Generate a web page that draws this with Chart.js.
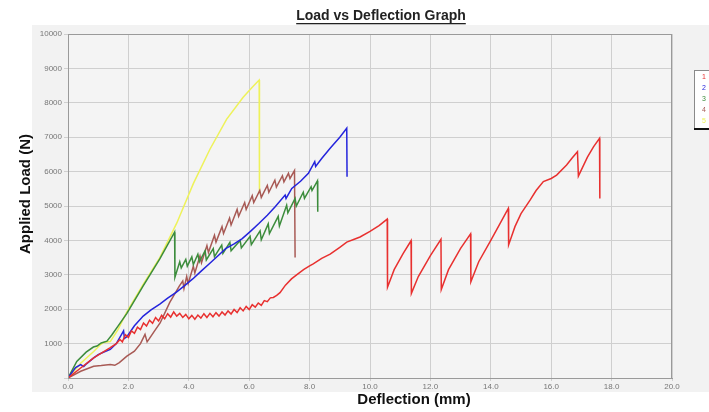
<!DOCTYPE html>
<html><head><meta charset="utf-8">
<script src="https://cdn.jsdelivr.net/npm/chart.js@4.4.1/dist/chart.umd.min.js"></script>
<style>html,body{margin:0;padding:0;background:#fff;overflow:hidden}</style>
</head><body>
<canvas id="c" width="709" height="412" style="width:709px;height:412px;display:block"></canvas>
<script>
const chartTitle = 'Load vs Deflection Graph';
const xTitle = 'Deflection (mm)';
const yTitle = 'Applied Load (N)';
const seriesLabels = ['1', '2', '3', '4', '5'];
const seriesColors = ['#e8302f', '#2424dc', '#3c8c3c', '#a85a55', '#eef25a'];

const s1X = [0,0.42,0.85,1.4,1.6,1.72,1.8,1.9,2.0,2.1,2.2,2.3,2.4,2.5,2.6,2.7,2.8,2.9,3.0,3.1,3.2,3.3,3.4,3.5,3.6,3.7,3.8,3.9,4.0,4.1,4.2,4.3,4.4,4.5,4.6,4.7,4.8,4.9,5.0,5.1,5.2,5.3,5.4,5.5,5.6,5.7,5.8,5.9,6.0,6.1,6.2,6.3,6.4,6.5,6.6,6.7,6.8,6.91,7.02,7.2,7.4,7.57,7.8,8.0,8.12,8.4,8.68,9.0,9.23,9.5,9.67,10.0,10.3,10.57,10.58,10.8,11.1,11.36,11.37,11.6,12.0,12.35,12.36,12.6,13.0,13.33,13.34,13.6,14.0,14.3,14.58,14.59,14.8,15.0,15.3,15.5,15.74,16.0,16.18,16.51,16.7,16.87,16.9,17.2,17.4,17.6,17.61];
const s1Y = [0,290,585,880,1000,1120,1050,1260,1180,1370,1300,1480,1410,1600,1510,1680,1590,1760,1660,1820,1720,1870,1770,1920,1800,1880,1760,1850,1720,1820,1710,1830,1740,1870,1760,1880,1780,1900,1800,1920,1830,1950,1860,1990,1900,2040,1950,2080,1990,2130,2060,2180,2110,2250,2220,2330,2340,2400,2480,2700,2880,3000,3150,3260,3320,3480,3600,3800,3950,4040,4100,4260,4430,4620,2640,3150,3620,3990,2460,2950,3560,4030,2570,3150,3770,4190,2800,3380,4000,4480,4930,3870,4400,4780,5170,5450,5710,5800,5900,6190,6400,6580,5870,6420,6720,6970,5220];

const s2X = [0,0.25,0.42,0.52,0.62,0.85,1.0,1.17,1.4,1.6,1.84,1.87,1.95,2.2,2.49,2.75,3.04,3.3,3.58,3.85,4.13,4.4,4.68,4.95,5.22,5.5,5.77,6.05,6.32,6.6,6.86,7.19,7.22,7.41,7.7,7.96,8.17,8.2,8.4,8.68,9.0,9.23,9.24];
const s2Y = [0,300,390,330,420,585,680,750,830,1000,1370,1150,1200,1520,1800,1980,2150,2320,2490,2680,2880,3100,3320,3540,3760,3900,4050,4270,4490,4730,4980,5320,5220,5510,5720,5950,6290,6150,6380,6680,7000,7260,5850];

const s3X = [0,0.29,0.6,0.84,0.96,1.1,1.29,1.45,1.65,1.95,2.49,3.04,3.53,3.54,3.7,3.75,3.9,3.95,4.1,4.15,4.3,4.35,4.54,4.58,4.81,4.85,5.09,5.13,5.36,5.4,5.7,5.74,6.03,6.07,6.36,6.4,6.63,6.67,6.96,7.0,7.24,7.28,7.52,7.56,7.79,7.83,8.05,8.08,8.26,8.27];
const s3Y = [0,480,750,900,930,1020,1070,1250,1500,1880,2680,3460,4240,2930,3380,3200,3450,3250,3520,3300,3600,3380,3700,3430,3760,3530,3860,3620,3940,3700,4000,3780,4120,3880,4280,4020,4480,4200,4700,4420,5020,4800,5220,5000,5400,5220,5560,5450,5730,4830];

const s4X = [0,0.42,0.85,1.1,1.4,1.55,1.7,1.95,2.2,2.4,2.55,2.62,2.7,2.85,3.05,3.37,3.69,3.8,3.84,3.93,3.98,4.15,4.2,4.37,4.42,4.6,4.65,4.85,4.9,5.1,5.15,5.35,5.4,5.6,5.65,5.85,5.9,6.1,6.15,6.35,6.4,6.6,6.65,6.85,6.9,7.1,7.15,7.3,7.35,7.5,7.52];
const s4Y = [0,195,340,360,390,370,450,634,780,1000,1270,1050,1150,1350,1600,2200,2680,2820,2600,2950,2750,3250,3050,3550,3350,3850,3650,4150,3950,4400,4200,4650,4450,4900,4700,5100,4900,5300,5100,5450,5250,5600,5400,5750,5550,5880,5700,5950,5800,6030,3500];

const s5X = [0,0.42,0.85,1.06,1.2,1.4,1.65,1.95,2.49,3.04,3.6,4.15,4.7,5.25,5.8,6.1,6.33,6.34];
const s5Y = [0,430,770,960,1040,1060,1400,1920,2720,3500,4500,5650,6650,7520,8160,8450,8660,5370];

const xTicksMin = 0, xTicksMax = 20, xStep = 2;
const yTicksMin = 0, yTicksMax = 10000, yStep = 1000;

function zip(xs, ys) { return xs.map((x, i) => ({x: x, y: ys[i]})); }
const allX = [s1X, s2X, s3X, s4X, s5X];
const allY = [s1Y, s2Y, s3Y, s4Y, s5Y];

const datasets = seriesLabels.map((lab, i) => ({
  label: lab,
  data: zip(allX[i], allY[i]),
  borderColor: seriesColors[i],
  backgroundColor: seriesColors[i],
  borderWidth: 1.5,
  pointRadius: 0,
  tension: 0,
  fill: false
}));

const decor = {
  id: 'decor',
  beforeDraw(chart) {
    const {ctx, chartArea: a} = chart;
    ctx.save();
    ctx.fillStyle = '#ffffff';
    ctx.fillRect(0, 0, chart.width, chart.height);
    ctx.fillStyle = '#f2f2f2';
    ctx.fillRect(32, 25, 677, 367);
    ctx.fillStyle = '#f4f4f4';
    ctx.fillRect(a.left, a.top, a.right - a.left, a.bottom - a.top);
    ctx.restore();
  },
  afterDraw(chart) {
    const {ctx, chartArea: a} = chart;
    ctx.save();
    ctx.strokeStyle = '#9a9a9a';
    ctx.lineWidth = 1;
    ctx.strokeRect(a.left + 0.5, a.top + 0.5, a.right - a.left - 1, a.bottom - a.top);
    ctx.fillStyle = '#222';
    ctx.font = 'bold 14px "Liberation Sans", Arial, sans-serif';
    ctx.textAlign = 'center';
    ctx.textBaseline = 'middle';
    const tx = 381, ty = 16;
    ctx.fillText(chartTitle, tx, ty);
    const tw = ctx.measureText(chartTitle).width;
    ctx.fillRect(tx - tw / 2, ty + 7, tw, 1.3);
    ctx.fillStyle = '#111';
    ctx.font = 'bold 15px "Liberation Sans", Arial, sans-serif';
    ctx.fillText(xTitle, 414, 400);
    ctx.save();
    ctx.translate(26, 194);
    ctx.rotate(-Math.PI / 2);
    ctx.fillText(yTitle, 0, 0);
    ctx.restore();
    const lx = 694, ly = 70, lh = 58;
    ctx.fillStyle = '#ffffff';
    ctx.fillRect(lx, ly, 30, lh);
    ctx.strokeStyle = '#8a8a8a';
    ctx.lineWidth = 1;
    ctx.strokeRect(lx + 0.5, ly + 0.5, 30, lh);
    ctx.fillStyle = '#111';
    ctx.fillRect(lx, ly + lh, 30, 2);
    ctx.font = '7px "Liberation Sans", Arial, sans-serif';
    ctx.textAlign = 'left';
    chart.data.datasets.forEach((ds, i) => {
      ctx.fillStyle = ds.borderColor;
      ctx.fillText(ds.label, 702, ly + 7 + i * 11);
    });
    ctx.restore();
  }
};

new Chart(document.getElementById('c'), {
  type: 'line',
  data: { datasets: datasets },
  plugins: [decor],
  options: {
    responsive: false,
    animation: false,
    devicePixelRatio: 1,
    layout: { padding: { left: 0, right: 37, top: 34, bottom: 0 } },
    plugins: { legend: { display: false }, title: { display: false }, tooltip: { enabled: false } },
    elements: { line: { borderCapStyle: 'butt', borderJoinStyle: 'miter' } },
    scales: {
      x: {
        type: 'linear',
        min: xTicksMin, max: xTicksMax,
        afterFit(s) { s.height = 34; },
        ticks: {
          stepSize: xStep,
          color: '#777',
          padding: 1,
          maxRotation: 0,
          font: { size: 8, family: '"Liberation Sans", Arial, sans-serif' },
          callback: v => Number(v).toFixed(1)
        },
        grid: { color: '#cfcfcf', lineWidth: 1, tickLength: 3 },
        border: { display: true, color: '#9a9a9a' }
      },
      y: {
        type: 'linear',
        min: yTicksMin, max: yTicksMax,
        afterFit(s) { s.width = 68; },
        ticks: {
          stepSize: yStep,
          color: '#777',
          padding: 2,
          font: { size: 8, family: '"Liberation Sans", Arial, sans-serif' },
          callback: v => (v === 0 ? '' : String(v))
        },
        grid: { color: '#cfcfcf', lineWidth: 1, tickLength: 4 },
        border: { display: true, color: '#9a9a9a' }
      }
    }
  }
});
</script>
</body></html>
